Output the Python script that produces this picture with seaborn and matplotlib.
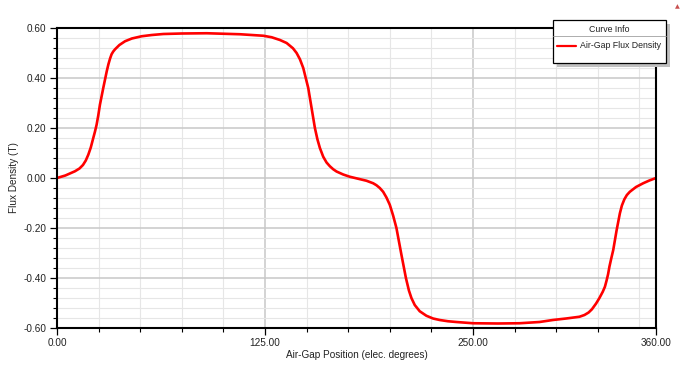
import numpy as np
import pandas as pd
import matplotlib
matplotlib.use("Agg")
import matplotlib.pyplot as plt
from matplotlib.patches import Rectangle
from matplotlib.lines import Line2D
from matplotlib.ticker import MultipleLocator, FixedLocator, FormatStrFormatter
import seaborn as sns

# air-gap flux density
position_deg = [
    0, 5, 10.8, 13.5, 15.6, 17.3, 18.8, 20.3, 21.8, 22.8, 23.8, 24.8, 25.8,
    27.8, 29.9, 30.9, 31.9, 32.8, 33.8, 34.9, 37.5, 40.9, 45, 50.9, 57, 63.9,
    75, 90, 110, 124, 129, 134, 138, 141.8, 144, 146, 148, 149.5, 151, 153,
    155, 156.5, 158, 160, 162, 164, 166, 168, 172, 176, 181, 186, 190, 192,
    194, 196, 198, 200, 202, 204, 207, 209.7, 211.5, 213, 215, 218, 222,
    226, 230, 235, 240, 250, 265, 278, 290, 298, 306, 314, 317, 319.5,
    321.5, 324, 326, 328, 329.3, 330.3, 331.2, 332, 333, 334.3, 336.3, 338.3,
    339.5, 341, 342.5, 344.3, 348, 352.3, 356, 360,
]
flux_T = [
    0.0, 0.010, 0.027, 0.038, 0.052, 0.070, 0.093, 0.122, 0.160, 0.185,
    0.213, 0.250, 0.293, 0.360, 0.427, 0.455, 0.478, 0.495, 0.506, 0.515,
    0.532, 0.547, 0.558, 0.567, 0.572, 0.576, 0.578, 0.579, 0.575, 0.569,
    0.563, 0.552, 0.540, 0.519, 0.500, 0.475, 0.440, 0.400, 0.360, 0.280,
    0.200, 0.155, 0.120, 0.085, 0.062, 0.047, 0.035, 0.026, 0.014, 0.005,
    -0.003, -0.011, -0.021, -0.029, -0.040, -0.055, -0.078, -0.107, -0.150,
    -0.200, -0.307, -0.400, -0.450, -0.480, -0.508, -0.533, -0.551, -0.562,
    -0.568, -0.573, -0.576, -0.581, -0.582, -0.581, -0.576, -0.568, -0.562,
    -0.555, -0.548, -0.538, -0.525, -0.502, -0.480, -0.455, -0.435, -0.410,
    -0.385, -0.355, -0.325, -0.288, -0.210, -0.141, -0.110, -0.085, -0.068,
    -0.055, -0.036, -0.021, -0.010, 0.0,
]
x_major = [0, 125, 250, 360]
x_labels = ["0.00", "125.00", "250.00", "360.00"]
curve_name = "Air-Gap Flux Density"

df = pd.DataFrame({"pos": position_deg, "flux": flux_T})

sns.set_style("white")
plt.rcParams["font.family"] = ["Liberation Sans", "DejaVu Sans"]

W, H = 684, 365
fig = plt.figure(figsize=(W / 100, H / 100), dpi=100)
ax = fig.add_axes([57 / W, 1 - 328 / H, (656 - 57) / W, (328 - 28) / H])

ax.set_axisbelow(True)
sns.lineplot(data=df, x="pos", y="flux", color="#ff0000", lw=1.9,
             sort=False, ax=ax)

ax.set_xlim(0, 360)
ax.set_ylim(-0.6, 0.6)
ax.xaxis.set_major_locator(FixedLocator(x_major))
ax.set_xticklabels(x_labels)
ax.xaxis.set_minor_locator(FixedLocator(list(range(25, 351, 25))))
ax.yaxis.set_major_locator(MultipleLocator(0.2))
ax.yaxis.set_minor_locator(MultipleLocator(0.04))
ax.yaxis.set_major_formatter(FormatStrFormatter("%.2f"))

ax.grid(which="major", color="#c8c8c8", lw=1.1)
ax.grid(which="minor", color="#e6e6e6", lw=0.8)

ax.tick_params(which="major", direction="out", length=5, width=0.9,
               color="black", labelsize=7.2, labelcolor="#222222", pad=2.5,
               bottom=True, left=True)
ax.tick_params(which="minor", direction="out", length=3, width=0.8,
               color="black", bottom=True, left=True)
# no tick mark at 350 in the original, only the grid line
ax.xaxis.get_minor_ticks()[-1].tick1line.set_visible(False)

for s in ax.spines.values():
    s.set_color("black")
    s.set_linewidth(1.5)

ax.set_xlabel("Air-Gap Position (elec. degrees)", fontsize=7.2,
              color="#222222", labelpad=1.5)
ax.set_ylabel("Flux Density (T)", fontsize=7.2, color="#222222", labelpad=3)


# "Curve Info" box in pixel coordinates
def fx(px):
    return px / W


def fy(py):
    return 1 - py / H


lx0, lx1, ly0, ly1 = 553, 666, 20, 63
fig.patches.append(Rectangle((fx(lx0 + 4), fy(ly1 + 4)), fx(lx1 - lx0),
                             (ly1 - ly0) / H, transform=fig.transFigure,
                             facecolor="#c0c0c0", edgecolor="none", zorder=5))
fig.patches.append(Rectangle((fx(lx0), fy(ly1)), fx(lx1 - lx0),
                             (ly1 - ly0) / H, transform=fig.transFigure,
                             facecolor="white", edgecolor="black", lw=0.9,
                             zorder=6))
fig.lines.append(Line2D([fx(lx0), fx(lx1)], [fy(36), fy(36)],
                        transform=fig.transFigure, color="#a0a0a0", lw=0.6,
                        zorder=7))
fig.text(fx((lx0 + lx1) / 2), fy(29), "Curve Info", fontsize=6.3,
         ha="center", va="center", color="#222222", zorder=7)
fig.lines.append(Line2D([fx(557), fx(576)], [fy(45.5), fy(45.5)],
                        transform=fig.transFigure, color="#ff0000", lw=1.6,
                        zorder=7))
fig.text(fx(580), fy(45.5), curve_name, fontsize=6.3, ha="left",
         va="center", color="#222222", zorder=7)

# small marker at the top right corner
fig.text(fx(677), fy(7), "▲", fontsize=4.5, color="#c85050",
         ha="center", va="center", family=["DejaVu Sans"])

fig.savefig("out.png", dpi=100)
